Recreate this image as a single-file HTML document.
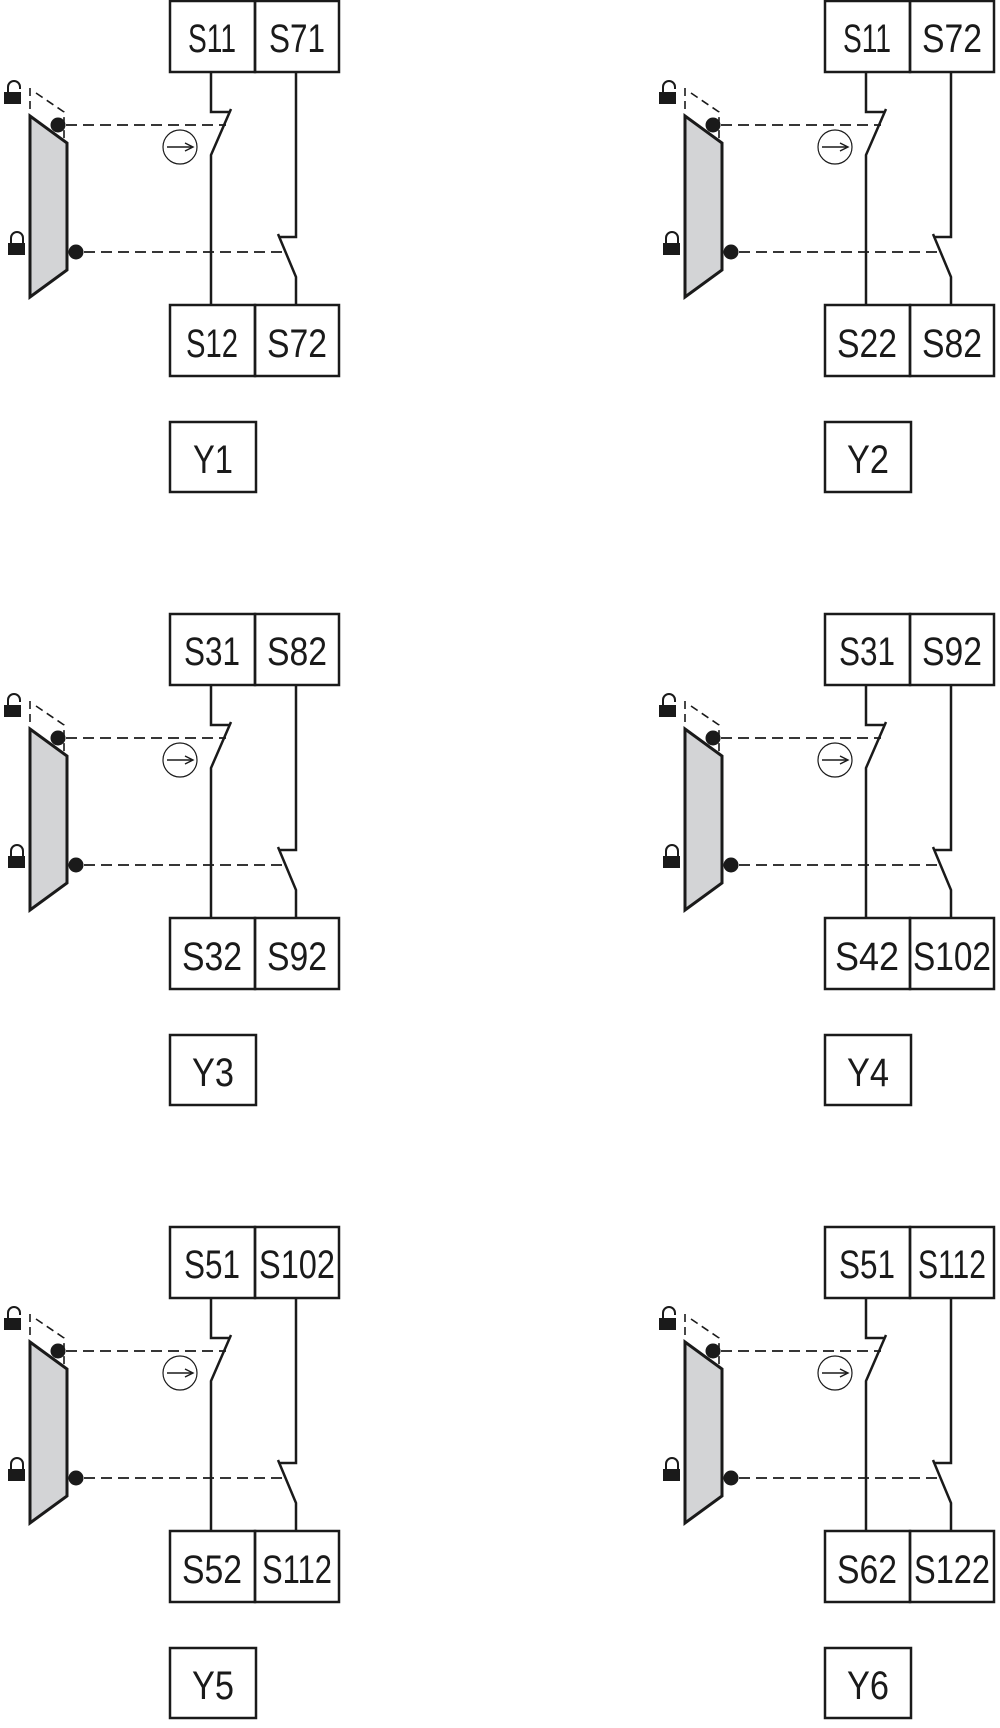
<!DOCTYPE html>
<html><head><meta charset="utf-8"><style>html,body{margin:0;padding:0;background:#fff}svg{display:block}</style></head>
<body>
<svg width="1000" height="1728" viewBox="0 0 1000 1728" xmlns="http://www.w3.org/2000/svg">
<defs>
<g id="m" fill="none" stroke="#1a1a1a" stroke-width="2.5">
  <rect x="170" y="1" width="85" height="71"/>
  <rect x="255" y="1" width="84" height="71"/>
  <rect x="170" y="305" width="85" height="71"/>
  <rect x="255" y="305" width="84" height="71"/>
  <rect x="170" y="422" width="86" height="70"/>
  <path d="M211 72 V112 H230"/>
  <path d="M231 109 L211 155 V305"/>
  <path d="M296 72 V237 H280"/>
  <path d="M278 234 L296 277 V305"/>
  <path d="M66 125 H226" stroke-dasharray="11,6" stroke-width="1.8"/>
  <path d="M84 252 H286" stroke-dasharray="11,6" stroke-width="1.8"/>
  <path d="M30 88 V114" stroke-dasharray="8,5" stroke-width="1.6"/>
  <path d="M36 93 L64 112 V143" stroke-dasharray="8,5" stroke-width="1.6"/>
  <polygon points="30,116 67,143 67,270 30,297" fill="#d3d4d6" stroke-width="3"/>
  <circle cx="180" cy="147" r="17" stroke-width="1.2"/>
  <path d="M167 147 H192" stroke-width="1.4"/>
  <path d="M185 143 L193 147 L185 151" stroke-width="1.4"/>
  <path d="M8 92 V87 A6 6 0 0 1 20 87 V89" stroke-width="2"/>
  <path d="M11 243 V238 A6 6 0 0 1 23 238 V243" stroke-width="2"/>
</g>
<g id="f" fill="#1a1a1a">
  <circle cx="58" cy="125" r="7.5"/>
  <circle cx="76" cy="252" r="7.5"/>
  <rect x="4" y="92" width="17" height="12"/>
  <rect x="8" y="243" width="17" height="12"/>
</g>
</defs>
<g font-family="'Liberation Sans', 'DejaVu Sans', sans-serif" font-size="40" fill="#1a1a1a" text-anchor="middle">
<g transform="translate(0,0)"><use href="#m"/><use href="#f"/>
<text x="212" y="52" textLength="48" lengthAdjust="spacingAndGlyphs">S11</text><text x="297" y="52" textLength="56" lengthAdjust="spacingAndGlyphs">S71</text>
<text x="212" y="357" textLength="52" lengthAdjust="spacingAndGlyphs">S12</text><text x="297" y="357" textLength="60" lengthAdjust="spacingAndGlyphs">S72</text>
<text x="213" y="473" textLength="40" lengthAdjust="spacingAndGlyphs">Y1</text></g>
<g transform="translate(655,0)"><use href="#m"/><use href="#f"/>
<text x="212" y="52" textLength="48" lengthAdjust="spacingAndGlyphs">S11</text><text x="297" y="52" textLength="60" lengthAdjust="spacingAndGlyphs">S72</text>
<text x="212" y="357" textLength="60" lengthAdjust="spacingAndGlyphs">S22</text><text x="297" y="357" textLength="60" lengthAdjust="spacingAndGlyphs">S82</text>
<text x="213" y="473" textLength="42" lengthAdjust="spacingAndGlyphs">Y2</text></g>
<g transform="translate(0,613)"><use href="#m"/><use href="#f"/>
<text x="212" y="52" textLength="56" lengthAdjust="spacingAndGlyphs">S31</text><text x="297" y="52" textLength="60" lengthAdjust="spacingAndGlyphs">S82</text>
<text x="212" y="357" textLength="60" lengthAdjust="spacingAndGlyphs">S32</text><text x="297" y="357" textLength="60" lengthAdjust="spacingAndGlyphs">S92</text>
<text x="213" y="473" textLength="42" lengthAdjust="spacingAndGlyphs">Y3</text></g>
<g transform="translate(655,613)"><use href="#m"/><use href="#f"/>
<text x="212" y="52" textLength="56" lengthAdjust="spacingAndGlyphs">S31</text><text x="297" y="52" textLength="60" lengthAdjust="spacingAndGlyphs">S92</text>
<text x="212" y="357" textLength="64" lengthAdjust="spacingAndGlyphs">S42</text><text x="297" y="357" textLength="78" lengthAdjust="spacingAndGlyphs">S102</text>
<text x="213" y="473" textLength="42" lengthAdjust="spacingAndGlyphs">Y4</text></g>
<g transform="translate(0,1226)"><use href="#m"/><use href="#f"/>
<text x="212" y="52" textLength="56" lengthAdjust="spacingAndGlyphs">S51</text><text x="297" y="52" textLength="76" lengthAdjust="spacingAndGlyphs">S102</text>
<text x="212" y="357" textLength="60" lengthAdjust="spacingAndGlyphs">S52</text><text x="297" y="357" textLength="70" lengthAdjust="spacingAndGlyphs">S112</text>
<text x="213" y="473" textLength="42" lengthAdjust="spacingAndGlyphs">Y5</text></g>
<g transform="translate(655,1226)"><use href="#m"/><use href="#f"/>
<text x="212" y="52" textLength="56" lengthAdjust="spacingAndGlyphs">S51</text><text x="297" y="52" textLength="68" lengthAdjust="spacingAndGlyphs">S112</text>
<text x="212" y="357" textLength="60" lengthAdjust="spacingAndGlyphs">S62</text><text x="297" y="357" textLength="76" lengthAdjust="spacingAndGlyphs">S122</text>
<text x="213" y="473" textLength="42" lengthAdjust="spacingAndGlyphs">Y6</text></g>
</g>
</svg>
</body></html>
